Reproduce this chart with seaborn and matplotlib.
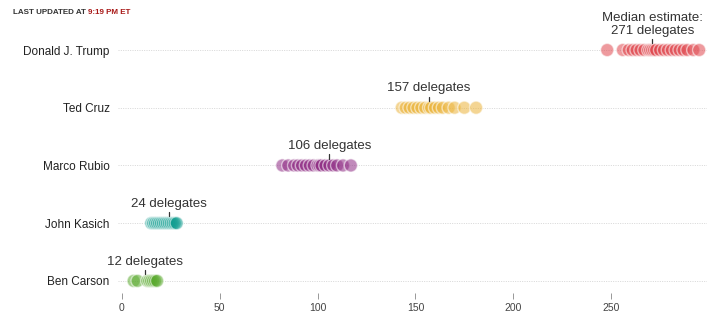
import matplotlib
matplotlib.use("Agg")
import matplotlib.pyplot as plt
import seaborn as sns
import pandas as pd

# Simulated delegate outcomes per candidate
candidates = ["Donald J. Trump", "Ted Cruz", "Marco Rubio", "John Kasich", "Ben Carson"]
trump = [248, 256, 259, 261, 263, 265, 267, 269, 270, 271, 272, 273, 275, 277,
         279, 281, 283, 285, 287, 289, 292, 295]
cruz = [143, 145, 147, 149, 151, 153, 155, 157, 158, 160, 162, 164, 167, 170, 175, 181]
rubio = [82, 85, 88, 90, 92, 94, 96, 98, 100, 101, 102, 104, 106, 108, 110, 113, 117]
kasich = [15, 16, 17, 18, 19, 20, 21, 22, 23, 24, 25, 26, 27, 28]
carson = [6, 8, 13, 14, 15, 16, 17, 18]
medians = [271, 157, 106, 24, 12]
labels = ["Median estimate:\n271 delegates", "157 delegates", "106 delegates",
          "24 delegates", "12 delegates"]
colors = ["#e0484f", "#ebb43a", "#8e2b83", "#129e91", "#5aaa2e"]
x_ticks = [0, 50, 100, 150, 200, 250]

series = [trump, cruz, rubio, kasich, carson]
df = pd.DataFrame({
    "candidate": [c for c, vals in zip(candidates, series) for _ in vals],
    "delegates": [v for vals in series for v in vals],
})

sns.set_theme(style="white")
plt.rcParams["font.family"] = ["Liberation Sans", "DejaVu Sans"]

fig = plt.figure(figsize=(7.2, 3.23), dpi=100)
ax = fig.add_axes([118 / 720, 1 - 293 / 323, (707 - 118) / 720, (293 - 20) / 323])

sns.stripplot(data=df, x="delegates", y="candidate", hue="candidate",
              order=candidates, hue_order=candidates, palette=colors,
              jitter=False, size=9.5, alpha=0.55, linewidth=1.0,
              edgecolor="white", legend=False, ax=ax, zorder=3)

ax.set_xlim(-2, 299)
ax.set_ylim(4.21, -0.52)

# dotted guide lines behind each row
for i in range(len(candidates)):
    ax.axhline(i, color="#d0d0d0", linestyle=(0, (1.2, 1.6)), linewidth=0.6, zorder=1)

# median markers and labels
for i, (m, lab) in enumerate(zip(medians, labels)):
    ax.plot([m, m], [i - 0.19, i - 0.12], color="#333333", linewidth=0.9, zorder=4)
    ax.text(m, i - 0.23, lab, ha="center", va="bottom", fontsize=9.5,
            color="#333333", linespacing=1.05, zorder=4)

ax.set_xticks(x_ticks)
ax.set_xticklabels([str(t) for t in x_ticks])
ax.tick_params(axis="x", direction="out", length=4, width=0.6, color="#888888",
               pad=3, labelsize=7.5, labelcolor="#444444", bottom=True)
ax.set_yticks(range(len(candidates)))
ax.set_yticklabels(candidates)
ax.tick_params(axis="y", length=0, pad=6, labelsize=8.5, labelcolor="#222222")
ax.set_xlabel("")
ax.set_ylabel("")
for s in ax.spines.values():
    s.set_visible(False)

t1 = fig.text(13 / 720, 1 - 12 / 323, "LAST UPDATED AT ", fontsize=5.8,
              fontweight="bold", color="#333333", va="center", ha="left")
fig.add_artist(plt.Annotation("9:19 PM ET", xy=(1, 0.5), xycoords=t1,
                              va="center", ha="left", fontsize=5.8,
                              fontweight="bold", color="#a81817"))

fig.savefig("out.png", dpi=100, facecolor="white")
